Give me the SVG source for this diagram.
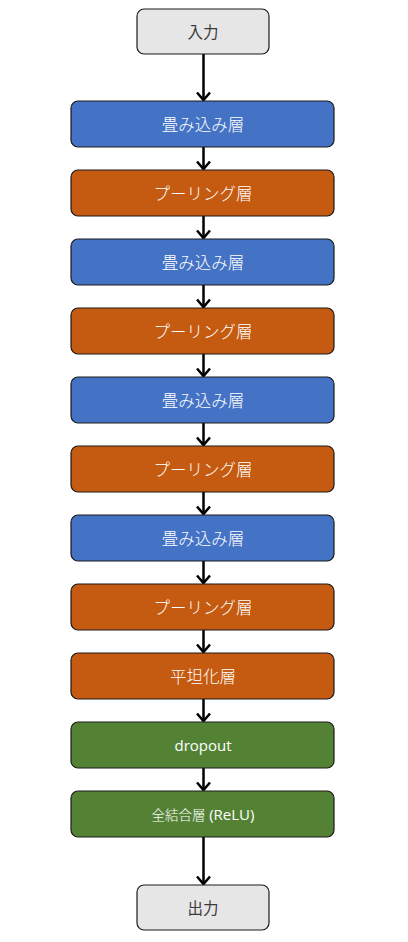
<svg xmlns="http://www.w3.org/2000/svg" width="408" height="942" viewBox="0 0 408 942">
<style>
.n rect{stroke:#1a1a1a;stroke-width:1.2}
.blue rect{fill:#4472C4}
.orange rect{fill:#C55A11}
.green rect{fill:#548235}
.gray rect{fill:#E7E6E6}
text{font-family:"Noto Sans CJK JP","Noto Sans",sans-serif;font-size:16.5px;font-weight:300;text-anchor:middle;dominant-baseline:central;fill:#FFFFFF}
.gray text{fill:#3A3A3A;font-size:15.5px;font-weight:400}
.small{font-size:13.5px}
.lat{font-family:"Open Sans","Noto Sans",sans-serif;font-size:15px;font-weight:500}
.c line{stroke:#000;stroke-width:2.5}
.c path{fill:none;stroke:#000;stroke-width:2.5;stroke-linejoin:miter}
</style>
<rect width="408" height="942" fill="#FFFFFF"/>
<g class="c" id="connectors">
<line x1="203.5" y1="54" x2="203.5" y2="100"/><path d="M197 92.5 L203.5 100 L210 92.5"/>
<line x1="203.5" y1="147" x2="203.5" y2="169"/><path d="M197 161.5 L203.5 169 L210 161.5"/>
<line x1="203.5" y1="216" x2="203.5" y2="238"/><path d="M197 230.5 L203.5 238 L210 230.5"/>
<line x1="203.5" y1="285" x2="203.5" y2="307"/><path d="M197 299.5 L203.5 307 L210 299.5"/>
<line x1="203.5" y1="354" x2="203.5" y2="376"/><path d="M197 368.5 L203.5 376 L210 368.5"/>
<line x1="203.5" y1="423" x2="203.5" y2="445"/><path d="M197 437.5 L203.5 445 L210 437.5"/>
<line x1="203.5" y1="492" x2="203.5" y2="514"/><path d="M197 506.5 L203.5 514 L210 506.5"/>
<line x1="203.5" y1="561" x2="203.5" y2="583"/><path d="M197 575.5 L203.5 583 L210 575.5"/>
<line x1="203.5" y1="630" x2="203.5" y2="652"/><path d="M197 644.5 L203.5 652 L210 644.5"/>
<line x1="203.5" y1="699" x2="203.5" y2="721"/><path d="M197 713.5 L203.5 721 L210 713.5"/>
<line x1="203.5" y1="768" x2="203.5" y2="790"/><path d="M197 782.5 L203.5 790 L210 782.5"/>
<line x1="203.5" y1="837" x2="203.5" y2="884"/><path d="M197 876.5 L203.5 884 L210 876.5"/>
</g>
<g id="input" class="n gray"><rect x="137" y="9" width="132" height="45" rx="7"/><text x="203" y="31">入力</text></g>
<g id="conv1" class="n blue"><rect x="71" y="101" width="263" height="46" rx="7"/><text x="203" y="123.5">畳み込み層</text></g>
<g id="pool1" class="n orange"><rect x="71" y="170" width="263" height="46" rx="7"/><text x="203" y="192.5">プーリング層</text></g>
<g id="conv2" class="n blue"><rect x="71" y="239" width="263" height="46" rx="7"/><text x="203" y="261.5">畳み込み層</text></g>
<g id="pool2" class="n orange"><rect x="71" y="308" width="263" height="46" rx="7"/><text x="203" y="330.5">プーリング層</text></g>
<g id="conv3" class="n blue"><rect x="71" y="377" width="263" height="46" rx="7"/><text x="203" y="399.5">畳み込み層</text></g>
<g id="pool3" class="n orange"><rect x="71" y="446" width="263" height="46" rx="7"/><text x="203" y="468.5">プーリング層</text></g>
<g id="conv4" class="n blue"><rect x="71" y="515" width="263" height="46" rx="7"/><text x="203" y="537.5">畳み込み層</text></g>
<g id="pool4" class="n orange"><rect x="71" y="584" width="263" height="46" rx="7"/><text x="203" y="606.5">プーリング層</text></g>
<g id="flatten" class="n orange"><rect x="71" y="653" width="263" height="46" rx="7"/><text x="203" y="675.5">平坦化層</text></g>
<g id="dropout" class="n green"><rect x="71" y="722" width="263" height="46" rx="7"/><text x="203" y="745" class="lat">dropout</text></g>
<g id="dense" class="n green"><rect x="71" y="791" width="263" height="46" rx="7"/><text x="203" y="814"><tspan class="small">全結合層</tspan> <tspan class="lat">(ReLU)</tspan></text></g>
<g id="output" class="n gray"><rect x="137" y="885" width="132" height="45" rx="7"/><text x="203" y="907">出力</text></g>
</svg>
